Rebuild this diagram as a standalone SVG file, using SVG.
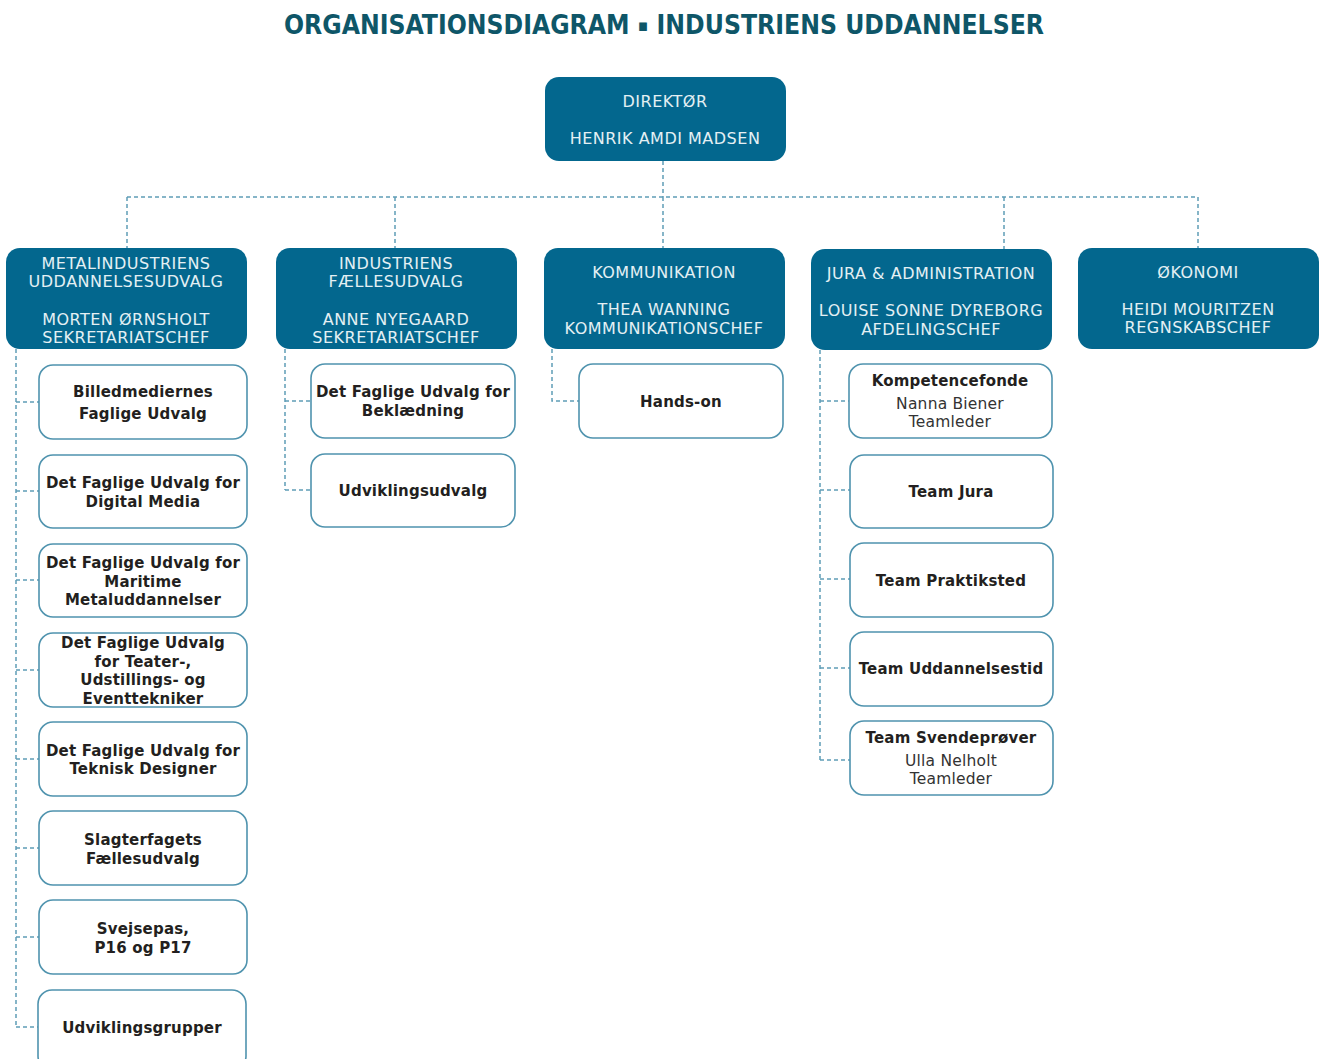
<svg xmlns="http://www.w3.org/2000/svg" width="1320" height="1059" viewBox="0 0 1320 1059">
<style>
.title{font-family:"DejaVu Sans Condensed","DejaVu Sans",sans-serif;font-weight:bold;font-size:26px;fill:#0e5668;text-anchor:middle;font-stretch:condensed}
.hb{fill:#03678e}
.ht{font-family:"DejaVu Sans",Verdana,sans-serif;font-size:16px;letter-spacing:0.5px;fill:#e4f0f4;text-anchor:middle;dominant-baseline:central}
.cb{fill:#fff;stroke:#4f93ae;stroke-width:1.6}
.ct{font-family:"DejaVu Sans",Verdana,sans-serif;font-size:15px;letter-spacing:0.2px;font-weight:bold;fill:#231f20;text-anchor:middle;dominant-baseline:central}
.cr{font-family:"DejaVu Sans",Verdana,sans-serif;font-size:15.5px;letter-spacing:0.2px;fill:#333;text-anchor:middle;dominant-baseline:central}
.ln{fill:none;stroke:#5f9db7;stroke-width:1.5;stroke-dasharray:4 3}
</style>
<rect width="1320" height="1059" fill="#fff"/>
<text class="title" x="664" y="34" textLength="760" lengthAdjust="spacingAndGlyphs">ORGANISATIONSDIAGRAM <tspan font-size="17px" dy="-3">▪</tspan><tspan dy="3"> INDUSTRIENS UDDANNELSER</tspan></text>

<g id="connectors">
<path class="ln" d="M663 161V197M127 197H1198M127 197V248M395 197V248M663 197V248M1004 197V249M1198 197V248"/>
<path class="ln" d="M16 349V1027M16 402H39M16 491H39M16 580H39M16 670H39M16 759H39M16 848H39M16 937H39M16 1027H38"/>
<path class="ln" d="M285 349V490M285 401H311M285 490H311"/>
<path class="ln" d="M552 349V401H579"/>
<path class="ln" d="M820 350V760M820 401H849M820 490H850M820 579H850M820 668H850M820 760H850"/>
</g>

<g transform="translate(0,1)">
<g id="director"><rect class="hb" x="545" y="76" width="241" height="84" rx="14"/>
<text class="ht" x="665" y="100">DIREKTØR</text><text class="ht" x="665" y="137">HENRIK AMDI MADSEN</text></g>

<g id="metal"><rect class="hb" x="6" y="247" width="241" height="101" rx="14"/>
<text class="ht" x="126" y="262">METALINDUSTRIENS</text><text class="ht" x="126" y="280">UDDANNELSESUDVALG</text>
<text class="ht" x="126" y="318">MORTEN ØRNSHOLT</text><text class="ht" x="126" y="336">SEKRETARIATSCHEF</text></g>

<g id="faelles"><rect class="hb" x="276" y="247" width="241" height="101" rx="14"/>
<text class="ht" x="396" y="262">INDUSTRIENS</text><text class="ht" x="396" y="280">FÆLLESUDVALG</text>
<text class="ht" x="396" y="318">ANNE NYEGAARD</text><text class="ht" x="396" y="336">SEKRETARIATSCHEF</text></g>

<g id="kommunikation"><rect class="hb" x="544" y="247" width="241" height="101" rx="14"/>
<text class="ht" x="664" y="271">KOMMUNIKATION</text><text class="ht" x="664" y="308">THEA WANNING</text><text class="ht" x="664" y="327">KOMMUNIKATIONSCHEF</text></g>

<g id="jura"><rect class="hb" x="811" y="248" width="241" height="101" rx="14"/>
<text class="ht" x="931" y="272">JURA &amp; ADMINISTRATION</text><text class="ht" x="931" y="309">LOUISE SONNE DYREBORG</text><text class="ht" x="931" y="328">AFDELINGSCHEF</text></g>

<g id="okonomi"><rect class="hb" x="1078" y="247" width="241" height="101" rx="14"/>
<text class="ht" x="1198" y="271">ØKONOMI</text><text class="ht" x="1198" y="308">HEIDI MOURITZEN</text><text class="ht" x="1198" y="326">REGNSKABSCHEF</text></g>

<g id="billedmedier"><rect class="cb" x="39" y="364" width="208" height="74" rx="14"/>
<text class="ct" x="143" y="391">Billedmediernes</text><text class="ct" x="143" y="413">Faglige Udvalg</text></g>
<g id="digital"><rect class="cb" x="39" y="454" width="208" height="73" rx="14"/>
<text class="ct" x="143" y="482">Det Faglige Udvalg for</text><text class="ct" x="143" y="501">Digital Media</text></g>
<g id="maritime"><rect class="cb" x="39" y="543" width="208" height="73" rx="14"/>
<text class="ct" x="143" y="562">Det Faglige Udvalg for</text><text class="ct" x="143" y="581">Maritime</text><text class="ct" x="143" y="599">Metaluddannelser</text></g>
<g id="teater"><rect class="cb" x="39" y="632" width="208" height="74" rx="14"/>
<text class="ct" x="143" y="642">Det Faglige Udvalg</text><text class="ct" x="143" y="661">for Teater-,</text><text class="ct" x="143" y="679">Udstillings- og</text><text class="ct" x="143" y="698">Eventtekniker</text></g>
<g id="teknisk"><rect class="cb" x="39" y="721" width="208" height="74" rx="14"/>
<text class="ct" x="143" y="750">Det Faglige Udvalg for</text><text class="ct" x="143" y="768">Teknisk Designer</text></g>
<g id="slagter"><rect class="cb" x="39" y="810" width="208" height="74" rx="14"/>
<text class="ct" x="143" y="839">Slagterfagets</text><text class="ct" x="143" y="858">Fællesudvalg</text></g>
<g id="svejsepas"><rect class="cb" x="39" y="899" width="208" height="74" rx="14"/>
<text class="ct" x="143" y="928">Svejsepas,</text><text class="ct" x="143" y="947">P16 og P17</text></g>
<g id="udviklingsgrupper"><rect class="cb" x="38" y="989" width="208" height="80" rx="14"/>
<text class="ct" x="142" y="1027">Udviklingsgrupper</text></g>

<g id="beklaedning"><rect class="cb" x="311" y="363" width="204" height="74" rx="14"/>
<text class="ct" x="413" y="391">Det Faglige Udvalg for</text><text class="ct" x="413" y="410">Beklædning</text></g>
<g id="udviklingsudvalg"><rect class="cb" x="311" y="453" width="204" height="73" rx="14"/>
<text class="ct" x="413" y="490">Udviklingsudvalg</text></g>

<g id="handson"><rect class="cb" x="579" y="363" width="204" height="74" rx="14"/>
<text class="ct" x="681" y="401">Hands-on</text></g>

<g id="kompetencefonde"><rect class="cb" x="849" y="363" width="203" height="74" rx="14"/>
<text class="ct" x="950" y="380">Kompetencefonde</text><text class="cr" x="950" y="403">Nanna Biener</text><text class="cr" x="950" y="421">Teamleder</text></g>
<g id="teamjura"><rect class="cb" x="850" y="454" width="203" height="73" rx="14"/>
<text class="ct" x="951" y="491">Team Jura</text></g>
<g id="praktiksted"><rect class="cb" x="850" y="542" width="203" height="74" rx="14"/>
<text class="ct" x="951" y="580">Team Praktiksted</text></g>
<g id="uddannelsestid"><rect class="cb" x="850" y="631" width="203" height="74" rx="14"/>
<text class="ct" x="951" y="668">Team Uddannelsestid</text></g>
<g id="svendeprover"><rect class="cb" x="850" y="720" width="203" height="74" rx="14"/>
<text class="ct" x="951" y="737">Team Svendeprøver</text><text class="cr" x="951" y="760">Ulla Nelholt</text><text class="cr" x="951" y="778">Teamleder</text></g>
</g>
</svg>
